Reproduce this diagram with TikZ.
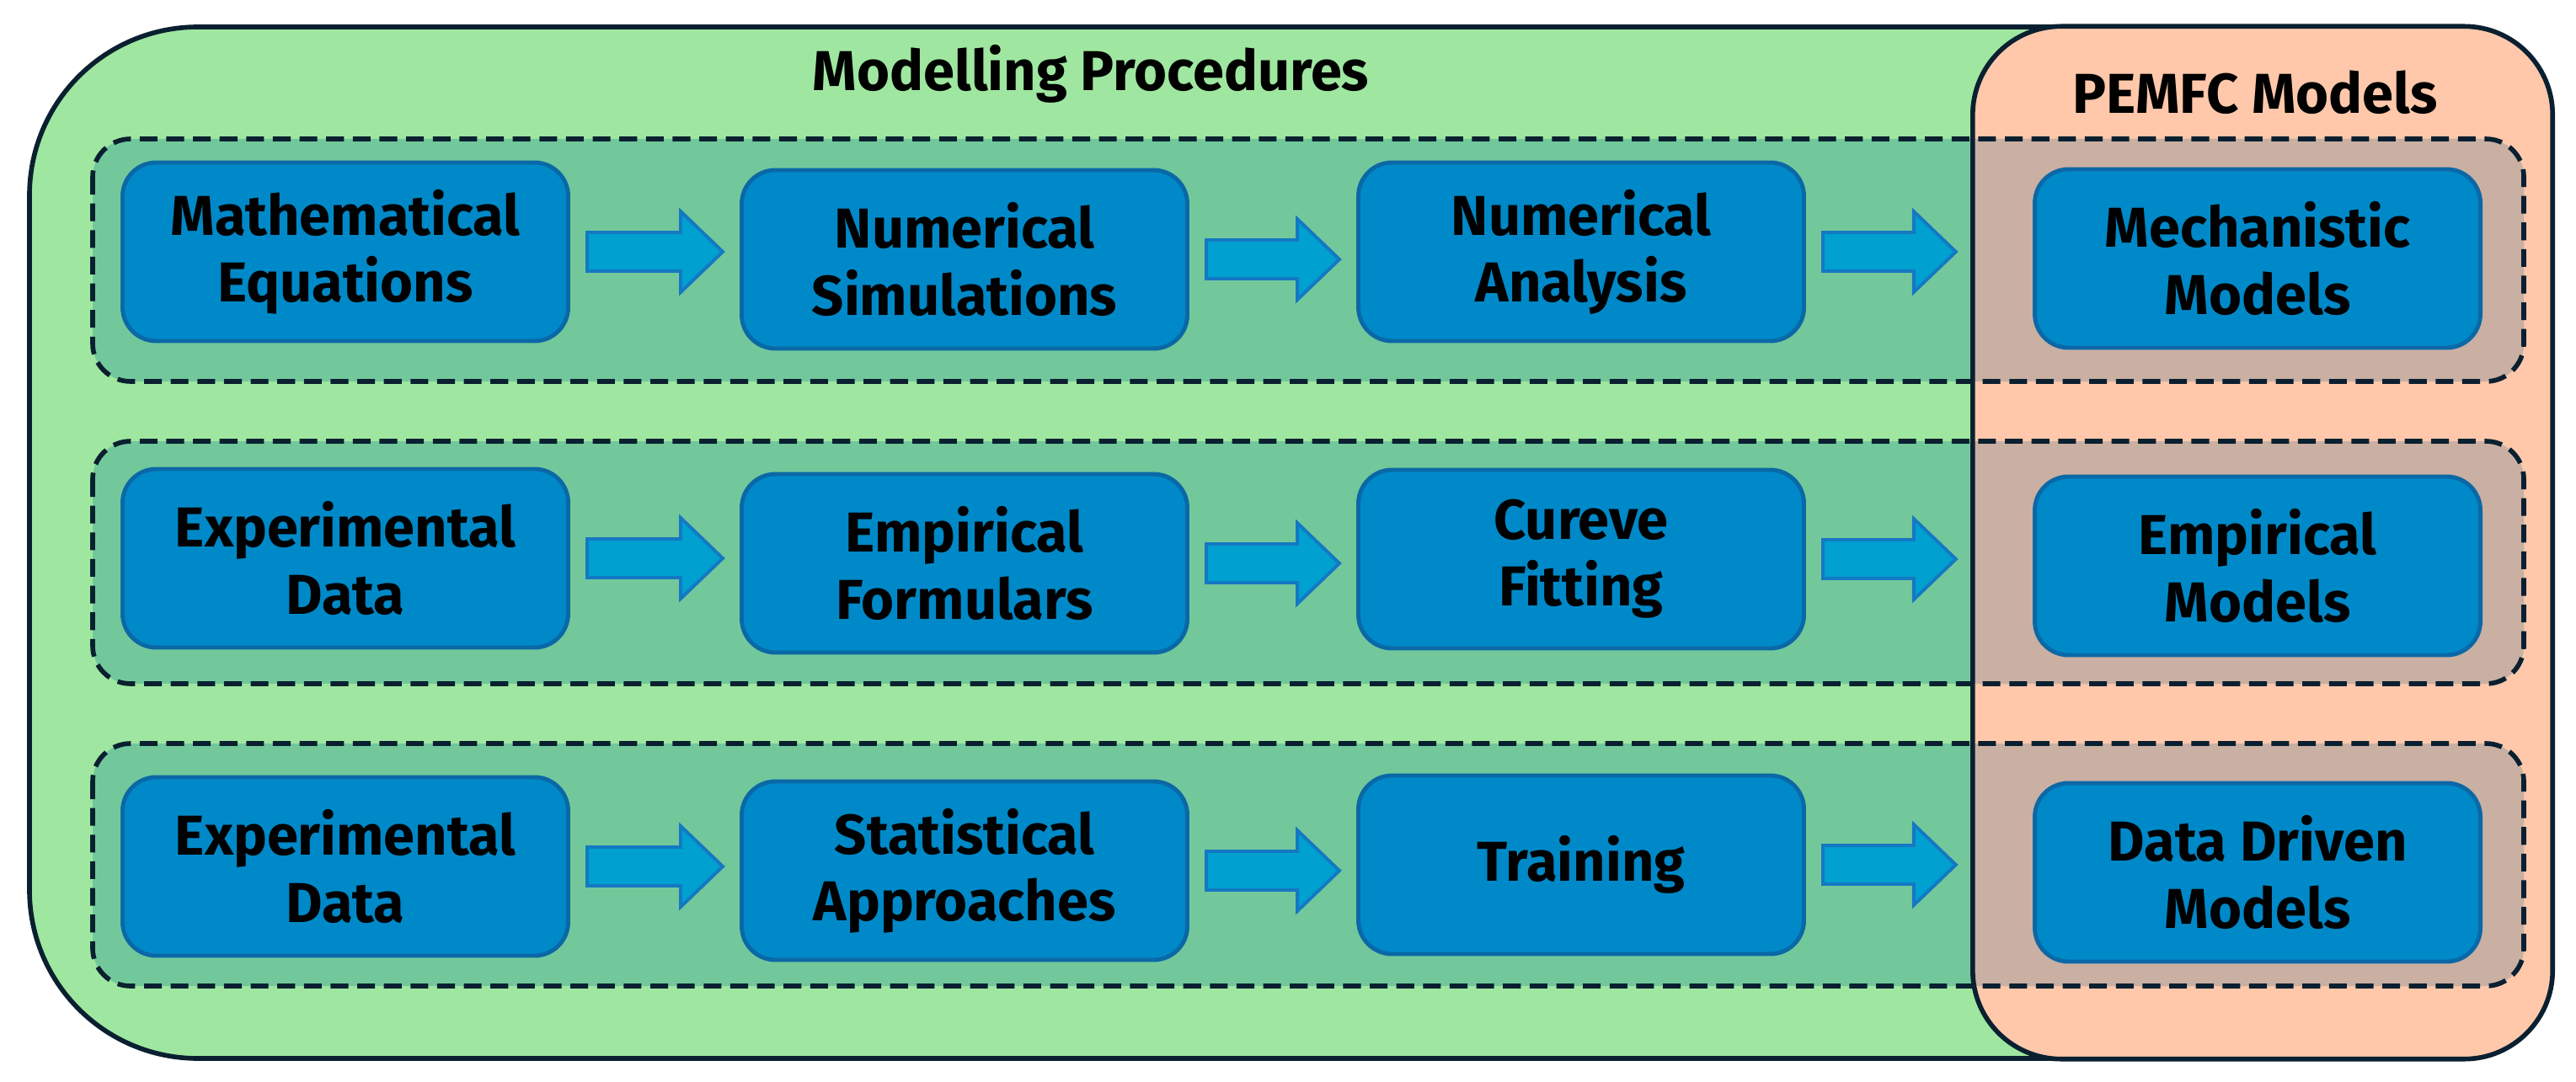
\documentclass[tikz,border=0pt]{standalone}
\usepackage{fontspec}
\setmainfont{Fira Sans}
\usepackage{tikz}
\usetikzlibrary{calc}

\definecolor{bggreen}{HTML}{9FE7A0}
\definecolor{rowgreen}{HTML}{72C89B}
\definecolor{bgpeach}{HTML}{FFC8AB}
\definecolor{rowpeach}{HTML}{CAAFA3}
\definecolor{outline}{HTML}{0A2030}
\definecolor{boxblue}{HTML}{0089C8}
\definecolor{boxline}{HTML}{0B68A6}
\definecolor{arrowblue}{HTML}{00A0D0}
\definecolor{arrowline}{HTML}{1478C2}

\tikzset{
  stepbox/.style={draw=boxline, fill=boxblue, line width=1.4pt, rounded corners=0.4cm,
    minimum width=5.29cm, minimum height=2.12cm, align=center,
    font=\bfseries\fontsize{19}{22.5}\selectfont},
  rowbox/.style={draw=outline, dash pattern=on 6pt off 3pt, line width=1.6pt, rounded corners=0.45cm},
  blockarrow/.style={draw=arrowline, fill=arrowblue, line width=1.1pt},
  heading/.style={anchor=base, font=\bfseries\fontsize{19}{22}\selectfont}
}

% block arrow from the east side of #1 up to just before the west side of #2
\newcommand{\flowarrow}[2]{%
  \draw[blockarrow] ($(#1.east)+(0.2,0.23)$) -- ($(#1.east -| #2.west)+(-0.7,0.23)$)
    -- ($(#1.east -| #2.west)+(-0.7,0.48)$) -- ($(#1.east -| #2.west)+(-0.2,0)$)
    -- ($(#1.east -| #2.west)+(-0.7,-0.48)$) -- ($(#1.east -| #2.west)+(-0.7,-0.23)$)
    -- ($(#1.east)+(0.2,-0.23)$) -- cycle;}

\begin{document}
\begin{tikzpicture}
\useasboundingbox (0,0) rectangle (30.58,-12.85);

% background panels
\node[draw=outline, fill=bggreen, line width=1.6pt, rounded corners=2cm,
  minimum width=27.65cm, minimum height=12.25cm] (procs) at (14.175,-6.445) {};
\node[fill=bgpeach, rounded corners=1.05cm,
  minimum width=6.87cm, minimum height=12.25cm] (models) at (26.86,-6.445) {};

% row bands
\foreach \t in {1.65,5.24,8.83}
  \fill[rowgreen, rounded corners=0.45cm] (1.10,-\t) rectangle (29.96,{-\t-2.88});
\begin{scope}
  \clip[rounded corners=1.05cm] (models.north west) rectangle (models.south east);
  \foreach \t in {1.65,5.24,8.83}
    \fill[rowpeach, rounded corners=0.45cm] (1.10,-\t) rectangle (29.96,{-\t-2.88});
\end{scope}
\draw[outline, line width=1.6pt, rounded corners=1.05cm] (models.north west) rectangle (models.south east);
\foreach \t in {1.65,5.24,8.83}
  \draw[rowbox] (1.10,-\t) rectangle (29.96,{-\t-2.88});

\node[heading] (T1) at (12.95,-1.08) {Modelling Procedures};
\node[heading] (T2) at (26.77,-1.35) {PEMFC Models};

\node[stepbox] (A1) at (4.10,-2.99) {Mathematical\\Equations};
\node[stepbox] (A2) at (11.45,-3.08) {Numerical\\Simulations};
\node[stepbox] (A3) at (18.77,-2.99) {Numerical\\Analysis};
\node[stepbox] (A4) at (26.80,-3.07) {Mechanistic\\Models};

\node[stepbox] (B1) at (4.10,-6.63) {Experimental\\Data};
\node[stepbox] (B2) at (11.45,-6.69) {Empirical\\Formulars};
\node[stepbox] (B3) at (18.77,-6.64) {Cureve\\Fitting};
\node[stepbox] (B4) at (26.80,-6.72) {Empirical\\Models};

\node[stepbox] (C1) at (4.10,-10.29) {Experimental\\Data};
\node[stepbox] (C2) at (11.45,-10.34) {Statistical\\Approaches};
\node[stepbox] (C3) at (18.77,-10.27) {Training};
\node[stepbox] (C4) at (26.80,-10.36) {Data Driven\\Models};

\flowarrow{A1}{A2}
\flowarrow{A2}{A3}
\flowarrow{A3}{models}
\flowarrow{B1}{B2}
\flowarrow{B2}{B3}
\flowarrow{B3}{models}
\flowarrow{C1}{C2}
\flowarrow{C2}{C3}
\flowarrow{C3}{models}
\end{tikzpicture}
\end{document}
